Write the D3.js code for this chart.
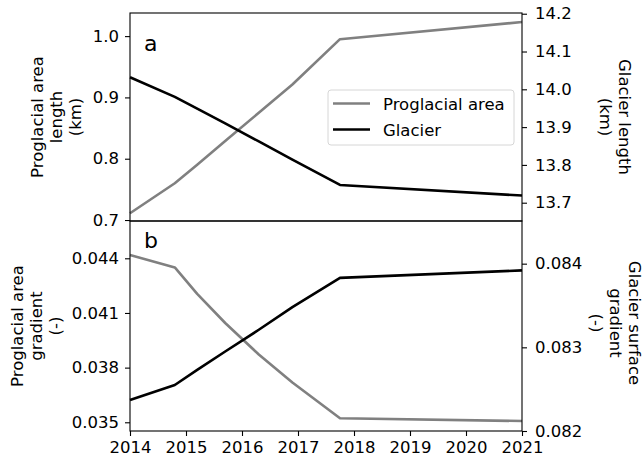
<!DOCTYPE html>
<html>

<head>
  <meta charset='utf-8'>
  <script type="text/javascript" src="https://cdn.jsdelivr.net/npm/d3@7"></script>
  <style type="text/css">
    body {
      margin: 0;
      background: #fff;
    }

    text {
      font-family: "DejaVu Sans", sans-serif;
    }

    .axis path,
    .axis line {
      stroke: #000;
      stroke-width: 1.1;
    }

    .axis text {
      font-size: 16.5px;
      fill: #000;
    }
  </style>
</head>

<body>
</body>

<script type="text/javascript">
  // data
  let years = [2014, 2014.8, 2015.2, 2015.7, 2016.3, 2016.9, 2017.75, 2021]
  let proglacialLength = [0.711, 0.760, 0.790, 0.829, 0.875, 0.921, 0.995, 1.023]
  let glacierLength = [14.032, 13.980, 13.949, 13.910, 13.862, 13.814, 13.747, 13.719]
  let proglacialGradient = [0.04418, 0.04350, 0.04205, 0.04045, 0.03872, 0.03718, 0.03522, 0.03507]
  let glacierGradient = [0.08237, 0.08255, 0.08273, 0.08295, 0.08321, 0.08348, 0.08383, 0.08392]

  let xTicks = [2014, 2015, 2016, 2017, 2018, 2019, 2020, 2021]
  let aLeftTicks = [0.7, 0.8, 0.9, 1.0]
  let aRightTicks = [13.7, 13.8, 13.9, 14.0, 14.1, 14.2]
  let bLeftTicks = [0.035, 0.038, 0.041, 0.044]
  let bRightTicks = [0.082, 0.083, 0.084]

  let w = 644;
  let h = 463;
  let left = 130, right = 522;
  let aTop = 13, aBottom = 221, bTop = 221, bBottom = 431;

  let svg = d3.select("body")
    .append("svg")
    .attr("width", w)
    .attr("height", h);

  let x = d3.scaleLinear().domain([2014, 2021]).range([left, right])

  let yaL = d3.scaleLinear().domain([0.6984, 1.0377]).range([aBottom, aTop])
  let yaR = d3.scaleLinear().domain([13.6516, 14.2019]).range([aBottom, aTop])
  let ybL = d3.scaleLinear().domain([0.034522, 0.046047]).range([bBottom, bTop])
  let ybR = d3.scaleLinear().domain([0.082, 0.08451]).range([bBottom, bTop])

  function drawLine(vals, yScale, color) {
    let line = d3.line()
      .x((d, i) => x(years[i]))
      .y(d => yScale(d))
    svg.append("path")
      .datum(vals)
      .attr("d", line)
      .attr("fill", "none")
      .attr("stroke", color)
      .attr("stroke-width", 2.6)
      .attr("stroke-linejoin", "round")
  }

  // panel a
  drawLine(proglacialLength, yaL, "#808080")
  drawLine(glacierLength, yaR, "#000")
  // panel b
  drawLine(proglacialGradient, ybL, "#808080")
  drawLine(glacierGradient, ybR, "#000")

  // frames
  svg.append("rect").attr("x", left).attr("y", aTop).attr("width", right - left).attr("height", aBottom - aTop)
    .attr("fill", "none").attr("stroke", "#000").attr("stroke-width", 1.1)
  svg.append("rect").attr("x", left).attr("y", bTop).attr("width", right - left).attr("height", bBottom - bTop)
    .attr("fill", "none").attr("stroke", "#000").attr("stroke-width", 1.1)

  function addAxis(axis, tx, ty) {
    let g = svg.append("g").attr("class", "axis").attr("transform", `translate(${tx},${ty})`).call(axis)
    g.select(".domain").remove()
    return g
  }

  addAxis(d3.axisLeft(yaL).tickValues(aLeftTicks).tickFormat(d3.format(".1f")).tickSize(5).tickPadding(6), left, 0)
  addAxis(d3.axisRight(yaR).tickValues(aRightTicks).tickFormat(d3.format(".1f")).tickSize(5).tickPadding(8), right, 0)
  addAxis(d3.axisLeft(ybL).tickValues(bLeftTicks).tickFormat(d3.format(".3f")).tickSize(5).tickPadding(6), left, 0)
  addAxis(d3.axisRight(ybR).tickValues(bRightTicks).tickFormat(d3.format(".3f")).tickSize(5).tickPadding(8), right, 0)
  addAxis(d3.axisBottom(x).tickValues(xTicks).tickFormat(d3.format("d")).tickSize(5).tickPadding(5), 0, bBottom)

  // axis titles
  function vLabel(lines, cx, cy, rot) {
    let t = svg.append("text")
      .attr("transform", `translate(${cx},${cy}) rotate(${rot})`)
      .attr("text-anchor", "middle")
      .attr("font-size", "16.5px")
    let n = lines.length
    lines.forEach((s, i) => {
      t.append("tspan")
        .attr("x", 0)
        .attr("y", (i - (n - 1) / 2) * 19 + 6)
        .text(s)
    })
  }
  vLabel(["Proglacial area", "length", "(km)"], 56, 117, -90)
  vLabel(["Glacier length", "(km)"], 615, 117, 90)
  vLabel(["Proglacial area", "gradient", "(-)"], 36, 326, -90)
  vLabel(["Glacier surface", "gradient", "(-)"], 616, 323, 90)

  // panel letters
  svg.append("text").attr("x", 144).attr("y", 51).attr("font-size", "22px").text("a")
  svg.append("text").attr("x", 144).attr("y", 248).attr("font-size", "22px").text("b")

  // legend
  let lg = svg.append("g")
  lg.append("rect").attr("x", 328).attr("y", 90).attr("width", 186).attr("height", 55)
    .attr("rx", 3).attr("fill", "#fff").attr("fill-opacity", 0.8)
    .attr("stroke", "#d6d6d6").attr("stroke-width", 1)
  let legendItems = [["Proglacial area", "#808080"], ["Glacier", "#000"]]
  legendItems.forEach((d, i) => {
    let yy = 103.5 + i * 26
    lg.append("line").attr("x1", 333).attr("x2", 370).attr("y1", yy).attr("y2", yy)
      .attr("stroke", d[1]).attr("stroke-width", 2.6)
    lg.append("text").attr("x", 383).attr("y", yy + 6).attr("font-size", "16.5px").text(d[0])
  })
</script>

</html>
